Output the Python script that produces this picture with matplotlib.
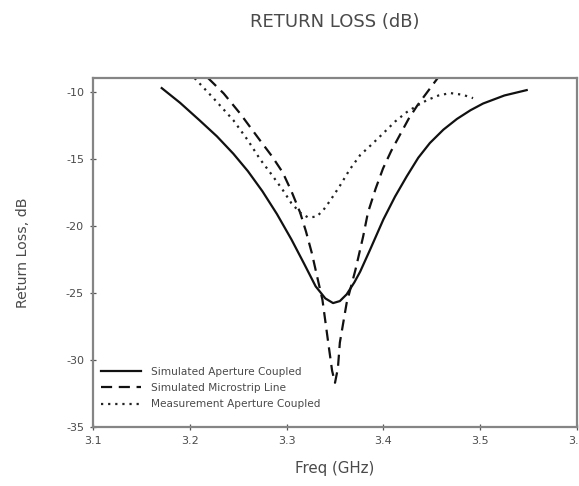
import numpy as np
import matplotlib
matplotlib.use('Agg')
import matplotlib.pyplot as plt

plt.rcParams['font.family'] = ['DejaVu Sans']
plt.rcParams['axes.unicode_minus'] = False

# Simulated aperture coupled (solid)
freq_sim_ac = [3.171, 3.19, 3.21, 3.228, 3.245, 3.26, 3.275, 3.29, 3.305, 3.318, 3.33,
               3.34, 3.348, 3.355, 3.362, 3.37, 3.376, 3.386, 3.40, 3.412, 3.424,
               3.436, 3.448, 3.462, 3.476, 3.49, 3.503, 3.525, 3.548]
rl_sim_ac = [-9.7, -10.8, -12.1, -13.3, -14.6, -15.9, -17.4, -19.1, -21.0, -22.8, -24.5,
             -25.4, -25.75, -25.6, -25.1, -24.2, -23.4, -21.8, -19.5, -17.8, -16.3,
             -14.9, -13.8, -12.8, -12.0, -11.35, -10.85, -10.25, -9.85]

# Simulated microstrip line (dashed)
freq_sim_ms = [3.219, 3.235, 3.252, 3.2725, 3.285, 3.296, 3.305, 3.314, 3.32, 3.326,
               3.331, 3.337, 3.343, 3.347, 3.350, 3.353, 3.355, 3.362, 3.371, 3.379,
               3.384, 3.392, 3.3996, 3.408, 3.417, 3.426, 3.435, 3.456]
rl_sim_ms = [-8.96, -10.1, -11.6, -13.6, -14.8, -16.0, -17.4, -19.0, -20.4, -22.0,
             -23.6, -25.5, -28.7, -30.8, -31.7, -30.6, -28.7, -25.75, -23.3, -20.8,
             -19.0, -17.2, -15.7, -14.4, -13.2, -12.0, -11.0, -8.96]

# Measurement aperture coupled (dotted)
freq_meas = [3.205, 3.225, 3.245, 3.26, 3.2725, 3.285, 3.296, 3.305, 3.314, 3.322,
             3.331, 3.338, 3.345, 3.355, 3.365, 3.376, 3.388, 3.40, 3.412, 3.424,
             3.435, 3.445, 3.457, 3.469, 3.482, 3.4926]
rl_meas = [-8.96, -10.5, -12.1, -13.6, -15.0, -16.2, -17.3, -18.3, -19.0, -19.35,
           -19.3, -18.8, -18.1, -17.0, -15.8, -14.7, -13.9, -13.06, -12.2, -11.5,
           -11.0, -10.6, -10.25, -10.07, -10.2, -10.45]

txt = '#4a4a4a'

fig = plt.figure(figsize=(5.79, 4.86), dpi=100)
ax = fig.add_axes([0.1606, 0.1214, 0.836, 0.718])

ax.plot(freq_sim_ac, rl_sim_ac, color='#111111', lw=1.6, ls='-',
        label='Simulated Aperture Coupled')
ax.plot(freq_sim_ms, rl_sim_ms, color='#111111', lw=1.6, ls=(0, (5, 3)),
        label='Simulated Microstrip Line')
ax.plot(freq_meas, rl_meas, color='#222222', lw=1.6, ls=(0, (1, 2.2)),
        label='Measurement Aperture Coupled')

ax.set_xlim(3.1, 3.6)
ax.set_ylim(-35, -8.95)
ax.set_xticks([3.1, 3.2, 3.3, 3.4, 3.5, 3.6])
ax.set_xticklabels(['3.1', '3.2', '3.3', '3.4', '3.5', '3.6'])
ax.set_yticks([-35, -30, -25, -20, -15, -10])
ax.tick_params(direction='inout', length=5, width=0.9, colors='#555555',
               labelsize=8, labelcolor=txt, top=False, right=False, pad=4)

for s in ax.spines.values():
    s.set_color('#858585')
    s.set_linewidth(1.6)

ax.set_title('RETURN LOSS (dB)', fontsize=13, color=txt, pad=37)
ax.set_xlabel('Freq (GHz)', fontsize=10.8, color=txt, labelpad=11)
ax.set_ylabel('Return Loss, dB', fontsize=10.2, color=txt, labelpad=26)

leg = ax.legend(loc='lower left', bbox_to_anchor=(0.0, 0.028), frameon=False,
                fontsize=7.6, handlelength=3.8, handletextpad=0.9,
                labelspacing=0.6, borderpad=0, borderaxespad=0.76,
                labelcolor=txt)

fig.savefig('out.png', dpi=100)
